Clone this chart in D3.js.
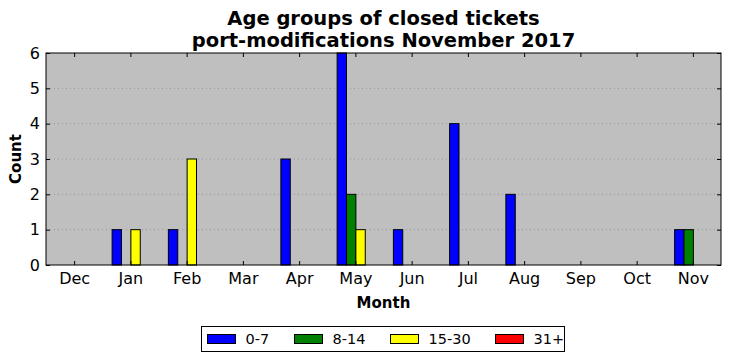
<!DOCTYPE html>
<html>
<head>
<meta charset="utf-8">
<script src="https://cdn.jsdelivr.net/npm/d3@7"></script>
<style>
  body { margin: 0; background: #fff; }
  text { font-family: "DejaVu Sans", sans-serif; }
</style>
</head>
<body>
<div id="chart"></div>
<script>
// Data
var months = ["Dec", "Jan", "Feb", "Mar", "Apr", "May", "Jun", "Jul", "Aug", "Sep", "Oct", "Nov"];
var groups = ["0-7", "8-14", "15-30", "31+"];
var colors = ["#0000ff", "#008000", "#ffff00", "#ff0000"];
var age0to7   = [0, 1, 1, 0, 3, 6, 1, 4, 2, 0, 0, 1];
var age8to14  = [0, 0, 0, 0, 0, 2, 0, 0, 0, 0, 0, 1];
var age15to30 = [0, 1, 3, 0, 0, 1, 0, 0, 0, 0, 0, 0];
var age31plus = [0, 0, 0, 0, 0, 0, 0, 0, 0, 0, 0, 0];
var yTicks = [0, 1, 2, 3, 4, 5, 6];

var series = [age0to7, age8to14, age15to30, age31plus];

var W = 731, H = 361;
var margin = {top: 53, right: 10, bottom: 96, left: 46},
    width = W - margin.left - margin.right,
    height = H - margin.top - margin.bottom;

var svg = d3.select("#chart").append("svg")
    .attr("width", W)
    .attr("height", H);

// Title
svg.append("text")
    .attr("x", margin.left + width / 2).attr("y", 25)
    .attr("text-anchor", "middle")
    .style("font-size", "19.5px").style("font-weight", "bold")
    .text("Age groups of closed tickets");
svg.append("text")
    .attr("x", margin.left + width / 2).attr("y", 47)
    .attr("text-anchor", "middle")
    .style("font-size", "19.5px").style("font-weight", "bold")
    .text("port-modifications November 2017");

var g = svg.append("g")
    .attr("transform", "translate(" + margin.left + "," + margin.top + ")");

var x = d3.scaleLinear()
    .domain([-0.5, months.length - 0.5])
    .range([0, width]);

var y = d3.scaleLinear()
    .domain([0, 6])
    .range([height, 0]);

var step = x(1) - x(0);
var barW = step / 6;

// background
g.append("rect")
    .attr("width", width).attr("height", height)
    .attr("fill", "#bfbfbf");

// grid
g.append("g")
  .selectAll("line")
  .data(yTicks.slice(1, -1))
  .enter().append("line")
    .attr("x1", 0).attr("x2", width)
    .attr("y1", function(d) { return y(d); })
    .attr("y2", function(d) { return y(d); })
    .attr("stroke", "#8a8a8a")
    .attr("stroke-width", 0.8)
    .attr("stroke-dasharray", "1,3");

// bars
series.forEach(function(vals, i) {
    g.append("g")
      .selectAll("rect")
      .data(vals)
      .enter().append("rect")
        .attr("x", function(d, j) { return x(j) + (i - 2) * barW + 0.5; })
        .attr("y", function(d) { return y(d); })
        .attr("width", barW)
        .attr("height", function(d) { return height - y(d); })
        .attr("fill", colors[i])
        .attr("stroke", "#000")
        .attr("stroke-width", 1);
});

// axes (ticks inward, on all sides)
var tickLen = 4;
g.append("g")
    .attr("transform", "translate(0," + height + ")")
    .call(d3.axisBottom(x).tickValues(d3.range(months.length))
        .tickFormat(function(d) { return months[d]; })
        .tickSizeInner(-tickLen).tickSizeOuter(0).tickPadding(8))
    .call(function(a) {
        a.select(".domain").remove();
        a.selectAll("text").style("font-size", "16px").attr("fill", "#000")
            .style("font-family", "DejaVu Sans");
    });
g.append("g")
    .call(d3.axisTop(x).tickValues(d3.range(months.length))
        .tickFormat("").tickSizeInner(-tickLen).tickSizeOuter(0))
    .call(function(a) { a.select(".domain").remove(); });
g.append("g")
    .call(d3.axisLeft(y).tickValues(yTicks).tickFormat(d3.format("d"))
        .tickSizeInner(-tickLen).tickSizeOuter(0).tickPadding(6))
    .call(function(a) {
        a.select(".domain").remove();
        a.selectAll("text").style("font-size", "16px").attr("fill", "#000")
            .style("font-family", "DejaVu Sans");
    });
g.append("g")
    .attr("transform", "translate(" + width + ",0)")
    .call(d3.axisRight(y).tickValues(yTicks)
        .tickFormat("").tickSizeInner(-tickLen).tickSizeOuter(0))
    .call(function(a) { a.select(".domain").remove(); });

// frame
g.append("rect")
    .attr("width", width).attr("height", height)
    .attr("fill", "none").attr("stroke", "#000").attr("stroke-width", 1);

// axis labels
svg.append("text")
    .attr("x", margin.left + width / 2).attr("y", 308)
    .attr("text-anchor", "middle")
    .style("font-size", "15px").style("font-weight", "bold")
    .text("Month");
svg.append("text")
    .attr("transform", "translate(21," + (margin.top + height / 2) + ") rotate(-90)")
    .attr("text-anchor", "middle")
    .style("font-size", "15px").style("font-weight", "bold")
    .text("Count");

// legend
var legend = svg.append("g").attr("transform", "translate(201.5,326.5)");
legend.append("rect")
    .attr("width", 363).attr("height", 25)
    .attr("fill", "#fff").attr("stroke", "#000").attr("stroke-width", 1);
var legX = [6, 93, 189, 294];
var item = legend.selectAll("g.item")
    .data(groups)
  .enter().append("g")
    .attr("class", "item")
    .attr("transform", function(d, i) { return "translate(" + legX[i] + ",0)"; });
item.append("rect")
    .attr("x", 0).attr("y", 8)
    .attr("width", 28).attr("height", 9)
    .attr("fill", function(d, i) { return colors[i]; })
    .attr("stroke", "#000").attr("stroke-width", 1);
item.append("text")
    .attr("x", 38).attr("y", 17.5)
    .style("font-size", "14.5px")
    .text(function(d) { return d; });
</script>
</body>
</html>
